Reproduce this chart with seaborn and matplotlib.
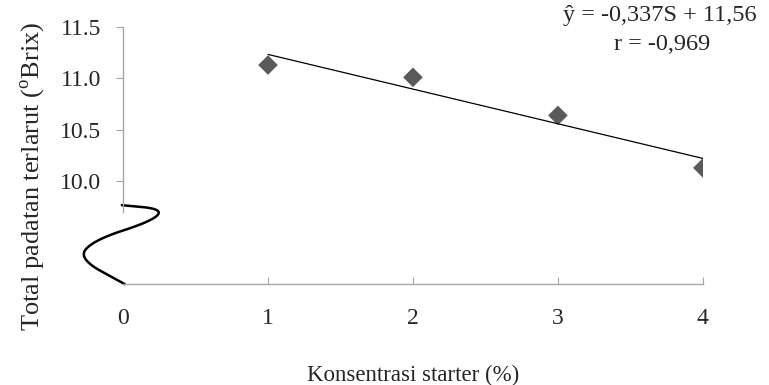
import numpy as np
import matplotlib
matplotlib.use("Agg")
import matplotlib.pyplot as plt
import seaborn as sns

# data
konsentrasi = [1, 2, 3, 4]
padatan = [11.13, 11.01, 10.64, 10.13]
x_ticks = [0, 1, 2, 3, 4]
y_ticks = [10.0, 10.5, 11.0, 11.5]
persamaan = "ŷ = -0,337S + 11,56"
korelasi = "r = -0,969"

sns.set_style("white")
plt.rcParams["font.family"] = ["Liberation Serif", "DejaVu Serif"]
plt.rcParams["mathtext.fontset"] = "custom"
plt.rcParams["mathtext.rm"] = "Liberation Serif"

fig = plt.figure(figsize=(7.69, 3.85), dpi=100)
ax = fig.add_axes([0.16, 0.262, 0.754, 0.668])

sns.regplot(x=konsentrasi, y=padatan, ax=ax, ci=None, marker="D",
            scatter_kws={"color": "#5a5a5a", "s": 100, "edgecolor": "none", "alpha": 1},
            line_kws={"color": "black", "lw": 0.9})

ax.set_xlim(0, 4)
ax.set_ylim(9.0, 11.5)
ax.set_xticks(x_ticks)
ax.set_yticks(y_ticks)
ax.set_yticklabels([f"{v:.1f}" for v in y_ticks])

gray = "#a6a6a6"
for side in ["top", "right"]:
    ax.spines[side].set_visible(False)
ax.spines["left"].set_color(gray)
ax.spines["bottom"].set_color(gray)
ax.spines["left"].set_bounds(9.7, 11.5)
ax.spines["left"].set_linewidth(1.0)
ax.spines["bottom"].set_linewidth(1.0)

ax.tick_params(axis="y", direction="out", length=5, color=gray, labelsize=17, pad=11, left=True)
ax.tick_params(axis="x", direction="in", length=5, color=gray, labelsize=17, pad=17, bottom=True)
ax.xaxis.get_major_ticks()[0].tick1line.set_visible(False)

ax.set_xlabel("Konsentrasi starter (%)", fontsize=16.5, labelpad=26)
ax.set_ylabel("Total padatan terlarut (${}^{\\mathrm{o}}$Brix)", fontsize=19)
ax.yaxis.set_label_coords(-0.132, 0.42)

# axis break squiggle (axes fraction coords), smoothed with Chaikin
pts = np.array([(-0.002, 0.307), (0.069, 0.292), (0.05, 0.245),
                (-0.05, 0.172), (-0.078, 0.100), (0.003, 0.0)])
for _ in range(4):
    new = [pts[0]]
    for a, b in zip(pts[:-1], pts[1:]):
        new.append(0.75 * a + 0.25 * b)
        new.append(0.25 * a + 0.75 * b)
    new.append(pts[-1])
    pts = np.array(new)
ax.plot(pts[:, 0], pts[:, 1], transform=ax.transAxes, color="black",
        lw=1.8, clip_on=False, solid_capstyle="round")

fig.text(660 / 769, 1 - 16 / 385, persamaan, ha="center", va="center", fontsize=17.5)
fig.text(662 / 769, 1 - 45 / 385, korelasi, ha="center", va="center", fontsize=17.5)

fig.savefig("out.png", dpi=100)
